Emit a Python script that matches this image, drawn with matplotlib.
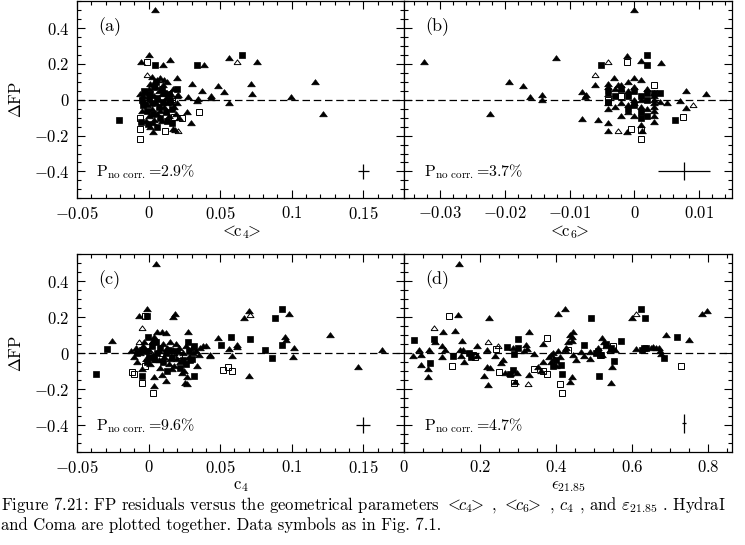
import numpy as np
import matplotlib
matplotlib.use('Agg')
import matplotlib.pyplot as plt
from matplotlib.ticker import MultipleLocator, FuncFormatter

plt.rcParams['font.family'] = 'cmr10'
plt.rcParams['mathtext.fontset'] = 'cm'
plt.rcParams['axes.formatter.use_mathtext'] = True

# ---------------- panel (a): <c4> ----------------
a_ft_x = [0.0045, -0.0054, 0.0004, 0.0147, 0.010, 0.039, 0.0564, 0.076, 0.0198, 0.0305,
          0.0373, 0.0487, 0.0527, 0.0715, 0.0725, 0.0995, 0.116, 0.122, 0.0564, 0.0436,
          0.0436, 0.0347, 0.034, 0.0277, 0.027, 0.0294, 0.0189, 0.021, 0.017, 0.0185,
          0.003, 0.0007, 0.0203, 0.0196,
          -0.004, -0.003, -0.002, -0.001, 0.0, 0.001, 0.002, 0.003, 0.004, 0.005,
          0.006, 0.007, 0.008, 0.009, 0.010, 0.011, 0.012, 0.013, 0.014, 0.015,
          0.016, 0.017, 0.002, 0.004, 0.006, -0.005, -0.006, 0.001, 0.003, 0.009,
          0.0, 0.007, 0.011, 0.018, 0.020, -0.002, 0.005, 0.008, 0.013]
a_ft_y = [0.50, 0.21, 0.25, 0.22, 0.194, 0.194, 0.235, 0.213, 0.12, 0.087,
          0.05, 0.078, 0.043, 0.089, 0.03, 0.017, 0.102, -0.082, -0.02, 0.022,
          0.01, 0.004, -0.005, 0.013, -0.067, -0.131, -0.08, -0.1, -0.163, -0.167,
          -0.178, -0.154, 0.028, -0.02,
          0.02, -0.01, 0.04, -0.03, 0.06, 0.0, -0.05, 0.09, 0.02, -0.02,
          0.11, 0.05, -0.06, 0.03, 0.08, -0.04, 0.01, 0.10, -0.09, 0.04,
          -0.02, 0.06, 0.13, -0.11, -0.08, -0.06, 0.03, 0.09, -0.13, -0.12,
          -0.09, 0.0, 0.11, -0.04, 0.02, -0.12, 0.07, 0.12, -0.02]
a_ot_x = [0.0615, -0.0014, 0.0207, 0.001]
a_ot_y = [0.213, 0.139, -0.172, -0.02]
a_fs_x = [0.0655, 0.0046, 0.0336, -0.0205, -0.0052, 0.0165, 0.0196, -0.0007,
          -0.005, -0.003, -0.001, 0.001, 0.002, 0.004, 0.006, 0.007, 0.009, 0.010,
          0.012, 0.014, 0.016, 0.003, 0.005, 0.0, -0.004, 0.008, 0.011, 0.013, 0.006, 0.015]
a_fs_y = [0.25, 0.194, 0.194, -0.111, -0.124, -0.128, 0.063, -0.135,
          0.0, 0.05, -0.06, 0.03, -0.02, 0.07, 0.01, -0.04, 0.06, -0.01,
          -0.07, 0.03, -0.05, -0.08, 0.10, 0.01, -0.03, -0.10, 0.04, -0.12, -0.15, 0.0]
a_os_x = [-0.0012, -0.0059, -0.0059, -0.0059, 0.0116, 0.018, 0.0235, 0.035, 0.016]
a_os_y = [0.211, -0.104, -0.161, -0.22, -0.176, -0.098, -0.102, -0.069, 0.005]

# ---------------- panel (b): <c6> ----------------
b_ft_x = [0.0, -0.0325, -0.0121, -0.0193, -0.0172, -0.0161, -0.0142, -0.0142, -0.0223, -0.0081,
          -0.0077, -0.0075, -0.0081, -0.0056, -0.0061, -0.0041, -0.0041, -0.0011, 0.001, 0.0041,
          0.008, 0.0111, 0.0071, 0.005, 0.008, 0.003, -0.0031, -0.0026, 0.0011, -0.0011,
          -0.004, -0.004, -0.004, -0.004, -0.004, -0.003, -0.003, -0.002, -0.002, -0.002,
          -0.001, -0.001, -0.001, -0.001, 0.0, 0.0, 0.0, 0.0, 0.0, 0.001,
          0.001, 0.001, 0.001, 0.002, 0.002, 0.003, 0.003, 0.003, 0.003, 0.003,
          0.003, 0.003, 0.004]
b_ft_y = [0.50, 0.213, 0.235, 0.102, 0.076, 0.018, 0.028, 0.0, -0.08, 0.041,
          0.016, 0.025, -0.107, -0.111, 0.085, -0.131, -0.172, 0.246, 0.217, 0.207,
          0.048, 0.033, -0.004, -0.02, -0.043, -0.126, 0.124, 0.08, -0.172, -0.178,
          0.09, 0.07, 0.03, -0.02, -0.05, 0.06, -0.04, 0.08, -0.02, -0.09,
          0.10, 0.05, -0.03, -0.07, 0.12, 0.07, 0.0, -0.02, -0.09, 0.11,
          0.0, -0.04, -0.14, 0.06, -0.05, 0.04, 0.02, 0.0, -0.02, -0.04,
          -0.06, -0.09, -0.01]
b_ot_x = [-0.0041, -0.0061, -0.0026, 0.009, -0.002]
b_ot_y = [0.211, 0.139, -0.176, -0.03, 0.06]
b_fs_x = [0.002, 0.002, -0.0051, 0.0063, 0.003, -0.004, -0.004, -0.002, -0.001, -0.001,
          0.0, 0.0, 0.001, 0.001, 0.002, 0.002, 0.002, 0.004, -0.003, 0.001]
b_fs_y = [0.25, 0.194, 0.193, -0.111, 0.04, 0.05, -0.01, 0.06, 0.02, -0.05,
          0.05, -0.03, -0.07, -0.10, 0.04, 0.0, -0.09, 0.04, 0.02, 0.02]
b_os_x = [-0.0012, 0.001, -0.0005, 0.0075, 0.003, 0.001, -0.004, -0.002]
b_os_y = [0.209, -0.22, -0.161, -0.098, 0.08, -0.17, -0.002, 0.02]

# ---------------- panel (c): c4 ----------------
c_ft_x = [0.0051, -0.0012, -0.007, 0.0186, 0.017, 0.0664, 0.0704, 0.0979, 0.127, 0.163,
          0.1464, 0.0699, 0.1018, 0.1011, 0.0951, 0.0958, 0.062, 0.062, 0.0564, 0.058,
          0.0485, 0.0277, -0.0257, 0.0037, 0.0121, 0.0035, 0.0256, 0.0266, 0.0336, 0.0426,
          0.0431,
          -0.012, -0.010, -0.009, -0.008, -0.006, -0.005, -0.004, -0.002, 0.0, 0.001,
          0.002, 0.003, 0.004, 0.005, 0.006, 0.007, 0.008, 0.009, 0.010, 0.011,
          0.012, 0.013, 0.014, 0.015, 0.016, 0.017, 0.018, 0.019, 0.020, 0.021,
          0.022, 0.024, 0.025, 0.026, 0.028, 0.030, 0.031, 0.033, 0.035, 0.036,
          0.038, 0.040, 0.009, 0.003, 0.007, 0.015, -0.003, 0.023, 0.027]
c_ft_y = [0.494, 0.244, 0.207, 0.218, 0.20, 0.193, 0.233, 0.215, 0.101, 0.018,
          -0.079, -0.129, 0.029, -0.021, 0.088, 0.073, 0.044, 0.035, 0.024, -0.015,
          0.084, 0.119, 0.068, -0.184, -0.153, -0.131, -0.164, -0.17, -0.074, -0.008,
          -0.015,
          0.01, -0.02, 0.03, -0.05, 0.0, -0.09, 0.04, -0.03, 0.02, -0.06,
          0.06, -0.01, 0.09, -0.04, 0.12, 0.01, -0.08, 0.12, 0.05, -0.02,
          0.11, 0.03, -0.06, 0.06, -0.09, 0.02, -0.07, 0.05, -0.03, 0.03,
          -0.05, 0.0, -0.10, 0.04, -0.02, 0.03, 0.0, 0.01, -0.01, 0.03,
          0.04, 0.04, -0.12, 0.07, -0.04, -0.03, 0.06, -0.11, -0.13]
c_ot_x = [-0.0049, -0.0066, 0.0706, 0.018]
c_ot_y = [0.138, 0.062, 0.211, 0.0]
c_fs_x = [-0.029, -0.0366, -0.0012, -0.0045, -0.0007, 0.0275, 0.0317, 0.071, 0.0576, 0.0503,
          0.0813, 0.0865, 0.0883, 0.0932, 0.0932, 0.029,
          -0.008, -0.005, -0.002, 0.0, 0.002, 0.004, 0.006, 0.008, 0.010, 0.012,
          0.014, 0.016, 0.020, 0.022, 0.024, 0.026, 0.028, 0.030, 0.032, 0.013,
          0.005, -0.001]
c_fs_y = [0.022, -0.114, 0.207, -0.125, 0.088, 0.062, -0.127, 0.079, 0.088, 0.044,
          0.016, -0.028, 0.196, 0.244, 0.044, -0.04,
          0.0, 0.02, 0.01, -0.02, 0.04, -0.03, 0.0, 0.03, -0.05, 0.0,
          0.02, -0.02, 0.01, -0.08, -0.04, -0.06, 0.01, -0.03, 0.04, -0.10,
          0.06, -0.05]
c_os_x = [-0.0026, -0.0119, -0.010, -0.0045, 0.0032, -0.0026, 0.052, 0.0553, 0.0585, 0.009, 0.021]
c_os_y = [0.207, -0.103, -0.115, -0.167, -0.221, -0.072, -0.092, -0.078, -0.098, 0.0, -0.01]

# ---------------- panel (d): eps_21.85 ----------------
d_ft_x = [0.143, 0.1405, 0.222, 0.4045, 0.423, 0.598, 0.783, 0.797, 0.75, 0.689,
          0.521, 0.525, 0.443, 0.44, 0.329, 0.133, 0.103, 0.08, 0.152, 0.022,
          0.039, 0.043, 0.044, 0.062, 0.062, 0.066, 0.099, 0.106, 0.10, 0.156,
          0.149, 0.147, 0.154, 0.19, 0.19, 0.21, 0.218, 0.219, 0.225, 0.218,
          0.238, 0.255, 0.26, 0.264, 0.277, 0.287, 0.291, 0.296, 0.316, 0.32,
          0.323, 0.329, 0.34, 0.353, 0.36, 0.364, 0.365, 0.386, 0.442, 0.437,
          0.423, 0.445, 0.451, 0.465, 0.472, 0.488, 0.489, 0.546, 0.544, 0.554,
          0.61, 0.661, 0.669, 0.674, 0.676,
          0.38, 0.385, 0.39, 0.395, 0.40, 0.405, 0.41, 0.51, 0.52, 0.53,
          0.54, 0.43, 0.435, 0.425, 0.44, 0.65, 0.655]
d_ft_y = [0.494, 0.211, 0.193, 0.215, 0.244, 0.193, 0.215, 0.233, 0.075, 0.101,
          0.084, 0.06, 0.119, 0.087, 0.119, 0.125, 0.119, 0.064, 0.068, -0.017,
          0.018, -0.01, -0.068, -0.09, -0.135, 0.018, 0.04, 0.018, -0.019, -0.048,
          -0.016, 0.017, 0.018, 0.039, -0.017, -0.124, -0.079, -0.179, -0.085, 0.018,
          -0.015, -0.055, -0.04, -0.11, -0.113, 0.031, -0.158, -0.11, 0.011, 0.044,
          0.022, -0.12, -0.006, -0.079, -0.097, -0.051, 0.05, -0.013, -0.13, -0.158,
          0.018, -0.012, -0.04, 0.009, -0.018, -0.035, 0.005, -0.079, -0.167, 0.02,
          0.022, 0.027, 0.031, 0.01, -0.005,
          -0.02, -0.05, 0.0, -0.03, -0.07, 0.01, -0.02, 0.03, -0.01, 0.04,
          0.02, 0.06, 0.10, 0.03, 0.07, 0.03, 0.035]
d_ot_x = [0.077, 0.61, 0.219, 0.247, 0.325]
d_ot_y = [0.138, 0.215, 0.062, 0.039, -0.173]
d_fs_x = [0.025, 0.077, 0.067, 0.128, 0.299, 0.298, 0.289, 0.271, 0.287, 0.279,
          0.411, 0.415, 0.473, 0.49, 0.513, 0.518, 0.51, 0.553, 0.571, 0.622,
          0.633, 0.636, 0.625, 0.684, 0.717, 0.17, 0.175, 0.39, 0.40, 0.505,
          0.53, 0.545, 0.63]
d_fs_y = [0.073, 0.081, -0.052, -0.017, 0.079, 0.031, -0.006, 0.035, -0.093, -0.118,
          -0.068, -0.113, 0.047, 0.196, -0.125, -0.013, 0.01, -0.042, 0.066, 0.244,
          0.196, 0.031, 0.018, -0.028, 0.088, 0.0, -0.02, -0.07, -0.04, 0.0,
          0.05, 0.03, 0.03]
d_os_x = [0.118, 0.375, 0.126, 0.25, 0.289, 0.34, 0.366, 0.375, 0.41, 0.415,
          0.432, 0.728, 0.18, 0.185, 0.24, 0.55, 0.515]
d_os_y = [0.207, 0.083, -0.072, -0.103, -0.166, -0.09, -0.097, -0.115, -0.173, -0.219,
          0.018, -0.07, -0.01, -0.02, 0.024, 0.04, -0.01]

# typical error bars (x, y, xerr, yerr) and correlation probabilities
err_x = [0.15, 0.0076, 0.15, 0.736]
err_y = [-0.40, -0.40, -0.40, -0.39]
err_dx = [0.004, 0.004, 0.005, 0.005]
err_dy = [0.042, 0.05, 0.044, 0.055]
p_nocorr = ['2.9', '3.7', '9.6', '4.7']
panel_tags = ['(a)', '(b)', '(c)', '(d)']
xlabels = [r'$<\!\!\mathrm{c}_4\!\!>$', r'$<\!\!\mathrm{c}_6\!\!>$',
           r'$\mathrm{c}_4$', r'$\epsilon_{21.85}$']
xlims = [(-0.0503, 0.1787), (-0.0355, 0.0151), (-0.0503, 0.1787), (0.0, 0.863)]
xmajor = [0.05, 0.01, 0.05, 0.2]
xminor = [0.01, 0.002, 0.01, 0.05]

fig = plt.figure(figsize=(7.45, 5.45), dpi=100)
W, H = 745.0, 545.0
boxes = [(76.7, 1.3, 404.3, 198.3), (404.3, 1.3, 732.3, 198.3),
         (76.7, 254.0, 404.3, 452.3), (404.3, 254.0, 732.3, 452.3)]

# flat triangle marker (closed outline)
tri = [(-1.0, -0.6), (1.0, -0.6), (0.0, 0.75), (-1.0, -0.6)]
data = [
    (a_ft_x, a_ft_y, a_ot_x, a_ot_y, a_fs_x, a_fs_y, a_os_x, a_os_y),
    (b_ft_x, b_ft_y, b_ot_x, b_ot_y, b_fs_x, b_fs_y, b_os_x, b_os_y),
    (c_ft_x, c_ft_y, c_ot_x, c_ot_y, c_fs_x, c_fs_y, c_os_x, c_os_y),
    (d_ft_x, d_ft_y, d_ot_x, d_ot_y, d_fs_x, d_fs_y, d_os_x, d_os_y),
]


def fmt(v, pos):
    if abs(v) < 1e-9:
        v = 0.0
    return '$%g$' % round(v, 4)


for i in range(4):
    x0, y0, x1, y1 = boxes[i]
    ax = fig.add_axes([x0 / W, 1 - y1 / H, (x1 - x0) / W, (y1 - y0) / H])
    ftx, fty, otx, oty, fsx, fsy, osx, osy = data[i]
    ax.axhline(0, color='k', lw=0.9, ls=(0, (6, 3)), zorder=1)
    ax.plot(ftx, fty, ls='none', marker=tri, ms=5.5, mfc='k', mec='k', mew=0.5)
    ax.plot(otx, oty, ls='none', marker=tri, ms=5.0, mfc='none', mec='k', mew=0.7)
    ax.plot(fsx, fsy, ls='none', marker='s', ms=3.8, mfc='k', mec='k', mew=0.5)
    ax.plot(osx, osy, ls='none', marker='s', ms=3.8, mfc='none', mec='k', mew=0.7)
    ax.errorbar([err_x[i]], [err_y[i]], xerr=[err_dx[i]], yerr=[err_dy[i]],
                fmt='none', ecolor='k', elinewidth=0.9, capsize=0)

    ax.set_xlim(xlims[i])
    ax.set_ylim(-0.55, 0.55)
    ax.xaxis.set_major_locator(MultipleLocator(xmajor[i]))
    ax.xaxis.set_minor_locator(MultipleLocator(xminor[i]))
    ax.yaxis.set_major_locator(MultipleLocator(0.2))
    ax.yaxis.set_minor_locator(MultipleLocator(0.05))
    ax.xaxis.set_major_formatter(FuncFormatter(fmt))
    ax.yaxis.set_major_formatter(FuncFormatter(fmt))
    ax.tick_params(which='both', direction='in', top=True, right=True,
                   width=0.8, labelsize=12, pad=5)
    ax.tick_params(which='major', length=6)
    ax.tick_params(which='minor', length=3)
    if i in (1, 3):
        ax.tick_params(labelleft=False)
    else:
        ax.text(-0.185, 0.5, r'$\Delta$FP', transform=ax.transAxes, rotation=90,
                ha='center', va='center', fontsize=12)
    for s in ax.spines.values():
        s.set_linewidth(0.9)

    ax.text(0.5, -0.17, xlabels[i], transform=ax.transAxes, ha='center',
            va='center', fontsize=12)
    ax.text(0.065, 0.87, panel_tags[i], transform=ax.transAxes, ha='left',
            va='center', fontsize=13)
    ax.text(0.06, 0.135, r'P$_{\rm no\ corr.}$=%s%%' % p_nocorr[i],
            transform=ax.transAxes, ha='left', va='center', fontsize=11.5)

caption = ('Figure 7.21: FP residuals versus the geometrical parameters '
           r'$<\!\!c_4\!\!>$ , $<\!\!c_6\!\!>$ , $c_4$ , and $\varepsilon_{21.85}$ . HydraI'
           '\nand Coma are plotted together. Data symbols as in Fig. 7.1.')
fig.text(0.001, 1 - 495.0 / H, caption, ha='left', va='top', fontsize=12,
         linespacing=1.2)

fig.savefig('out.png', dpi=100)
